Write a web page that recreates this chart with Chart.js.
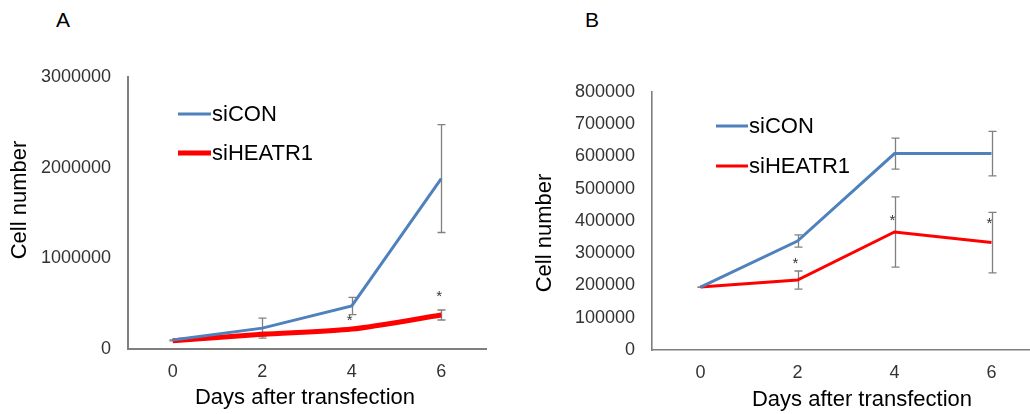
<!DOCTYPE html>
<html><head><meta charset="utf-8">
<script src="https://cdn.jsdelivr.net/npm/chart.js"></script>
<style>
html,body{margin:0;padding:0;width:1030px;height:414px;overflow:hidden;background:#fff;}
#a{position:absolute;left:0;top:0;}
#b{position:absolute;left:515px;top:0;}
.lbl{position:absolute;font-family:"Liberation Sans",Arial,sans-serif;font-size:21px;line-height:1;color:#000;}
</style></head><body>
<div class="lbl" style="left:56px;top:9px">A</div>
<div class="lbl" style="left:585px;top:9px">B</div>
<canvas id="a" width="515" height="414"></canvas>
<canvas id="b" width="530" height="414"></canvas>
<script>
// ---- data ----
const days = ['0', '2', '4', '6'];
const seriesNames = ['siCON', 'siHEATR1'];
const xTitle = 'Days after transfection';
const yTitle = 'Cell number';

const aCon = [100000, 230000, 475000, 1880000];
const aConErr = [0, 110000, 95000, 595000];
const aHeat = [90000, 162000, 220000, 375000];
const aHeatErr = [0, 20000, 10000, 55000];
const aStars = [null, null, 356000, 617000];

const bCon = [195000, 338000, 609000, 609000];
const bConErr = [0, 19000, 48000, 69000];
const bHeat = [195000, 217000, 366000, 333000];
const bHeatErr = [0, 28000, 109000, 94000];
const bStars = [null, 279000, 413000, 402000];

const FONT = '"Liberation Sans", Arial, sans-serif';
const BLUE = '#4f81bd';
const RED = '#ff0000';
const AXIS = '#7f7f7f';
const ERR = '#808080';

function overlay(cfg) {
  return {
    id: 'overlay',
    beforeDatasetsDraw(chart) {
      const ctx = chart.ctx, xs = chart.scales.x, ys = chart.scales.y;
      ctx.save();
      ctx.strokeStyle = ERR;
      ctx.lineWidth = 1.3;
      [[cfg.con, cfg.conErr], [cfg.heat, cfg.heatErr]].forEach(([vals, errs]) => {
        vals.forEach((v, i) => {
          const x = Math.round(xs.getPixelForValue(i)) + 0.5;
          const y1 = ys.getPixelForValue(v + errs[i]);
          const y2 = ys.getPixelForValue(v - errs[i]);
          ctx.beginPath();
          ctx.moveTo(x, y1); ctx.lineTo(x, y2);
          ctx.moveTo(x - 4, y1); ctx.lineTo(x + 4, y1);
          ctx.moveTo(x - 4, y2); ctx.lineTo(x + 4, y2);
          ctx.stroke();
        });
      });
      ctx.restore();
    },
    afterDraw(chart) {
      const ctx = chart.ctx, xs = chart.scales.x, ys = chart.scales.y;
      ctx.save();
      // asterisks
      ctx.fillStyle = '#333333';
      ctx.font = '15px ' + FONT;
      ctx.textAlign = 'center';
      ctx.textBaseline = 'alphabetic';
      cfg.stars.forEach((v, i) => {
        if (v === null) return;
        ctx.fillText('*', xs.getPixelForValue(i) - 2, ys.getPixelForValue(v) + 8);
      });
      // legend
      ctx.textBaseline = 'middle';
      ctx.textAlign = 'left';
      ctx.font = '22px ' + FONT;
      chart.data.datasets.forEach((ds, k) => {
        const y = cfg.leg.y[k];
        ctx.strokeStyle = ds.borderColor;
        ctx.lineWidth = ds.borderWidth;
        ctx.lineCap = 'butt';
        ctx.beginPath();
        ctx.moveTo(cfg.leg.x0, y); ctx.lineTo(cfg.leg.x1, y);
        ctx.stroke();
        ctx.fillStyle = '#000';
        ctx.fillText(ds.label, cfg.leg.tx, y + 1);
      });
      // axis titles
      ctx.fillStyle = '#000';
      ctx.textAlign = 'center';
      ctx.fillText(xTitle, cfg.xt[0], cfg.xt[1]);
      ctx.translate(cfg.yt[0], cfg.yt[1]);
      ctx.rotate(-Math.PI / 2);
      ctx.fillText(yTitle, 0, 0);
      ctx.restore();
    }
  };
}

function makeChart(id, cfg) {
  return new Chart(document.getElementById(id), {
    type: 'line',
    data: {
      labels: days,
      datasets: [
        { label: seriesNames[0], data: cfg.con, borderColor: BLUE, borderWidth: cfg.wCon, pointRadius: 0, tension: 0, fill: false },
        { label: seriesNames[1], data: cfg.heat, borderColor: RED, borderWidth: cfg.wHeat, pointRadius: 0, tension: cfg.tHeat, fill: false }
      ]
    },
    options: {
      responsive: false,
      animation: false,
      events: [],
      layout: { padding: { left: 0, top: cfg.top, right: cfg.right, bottom: 0 } },
      plugins: { legend: { display: false }, tooltip: { enabled: false }, title: { display: false } },
      scales: {
        x: {
          type: 'category', offset: true,
          grid: { display: false, drawTicks: false },
          border: { display: true, color: AXIS, width: cfg.axisW },
          ticks: { font: { size: 18, family: FONT }, color: '#333333', padding: 12, maxRotation: 0 },
          afterFit: s => { s.height = cfg.xh; }
        },
        y: {
          min: 0, max: cfg.max,
          grid: { display: false, drawTicks: false },
          border: { display: true, color: AXIS, width: cfg.axisW },
          ticks: { stepSize: cfg.step, font: { size: 18, family: FONT }, color: '#333333', padding: 17, callback: v => String(v) },
          afterFit: s => { s.width = cfg.yw; }
        }
      }
    },
    plugins: [overlay(cfg)]
  });
}

makeChart('a', {
  con: aCon, conErr: aConErr, heat: aHeat, heatErr: aHeatErr, stars: aStars,
  wCon: 3, wHeat: 5, tHeat: 0.25, axisW: 2,
  max: 3000000, step: 1000000,
  top: 77, right: 29, xh: 65, yw: 128,
  leg: { x0: 178, x1: 211, tx: 212, y: [114, 153] },
  xt: [305, 398], yt: [20, 200]
});

makeChart('b', {
  con: bCon, conErr: bConErr, heat: bHeat, heatErr: bHeatErr, stars: bStars,
  wCon: 3, wHeat: 3, tHeat: 0, axisW: 1.6,
  max: 800000, step: 100000,
  top: 92, right: 5, xh: 64, yw: 137,
  leg: { x0: 201, x1: 233, tx: 234, y: [126, 166] },
  xt: [347, 400], yt: [30, 233]
});
</script>
</body></html>
